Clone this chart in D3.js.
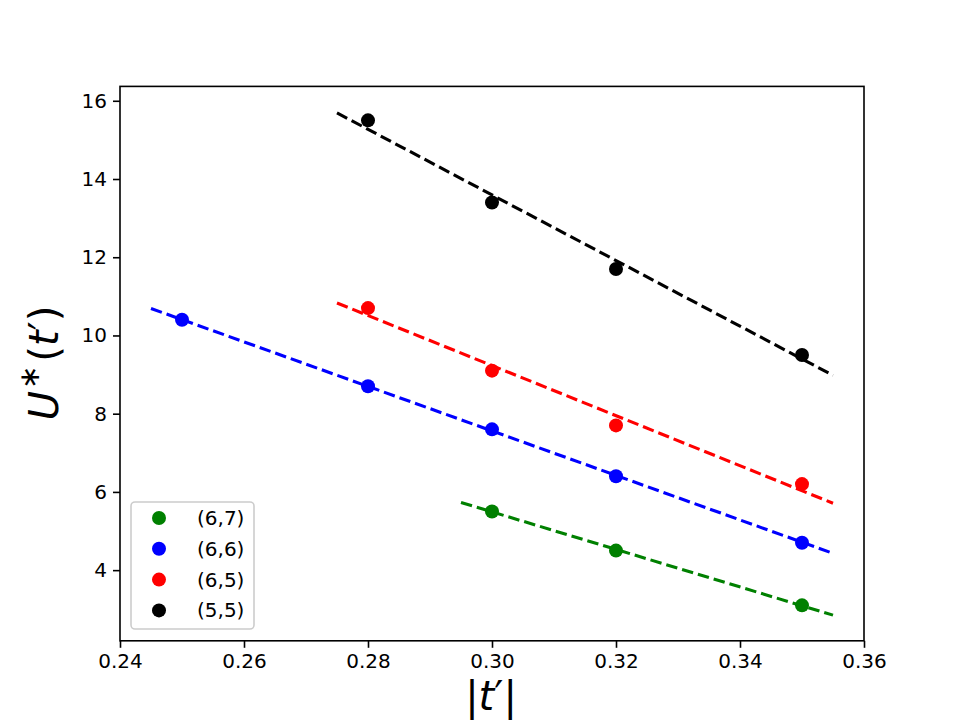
<!DOCTYPE html>
<html><head><meta charset="utf-8">
<script src="https://cdn.jsdelivr.net/npm/d3@7"></script>
<style>body{margin:0;background:#fff}svg{display:block}text{font-family:"DejaVu Sans",sans-serif}</style>
</head><body>
<svg id="c" width="960" height="720"></svg>
<script>
const seriesNames = ["(6,7)", "(6,6)", "(6,5)", "(5,5)"];
const seriesColors = ["green", "blue", "red", "black"];
const xGreen = [0.30, 0.32, 0.35];
const yGreen = [5.5, 4.5, 3.1];
const xBlue = [0.25, 0.28, 0.30, 0.32, 0.35];
const yBlue = [10.4, 8.7, 7.6, 6.4, 4.7];
const xRed = [0.28, 0.30, 0.32, 0.35];
const yRed = [10.7, 9.1, 7.7, 6.2];
const xBlack = [0.28, 0.30, 0.32, 0.35];
const yBlack = [15.5, 13.4, 11.7, 9.5];
// fitted dashed lines: [start, end]
const fitXGreen = [0.295, 0.355], fitYGreen = [5.73, 2.85];
const fitXBlue = [0.245, 0.355], fitYBlue = [10.69, 4.43];
const fitXRed = [0.275, 0.355], fitYRed = [10.83, 5.71];
const fitXBlack = [0.275, 0.355], fitYBlack = [15.69, 8.98];
const xTicks = [0.24, 0.26, 0.28, 0.30, 0.32, 0.34, 0.36];
const yTicks = [4, 6, 8, 10, 12, 14, 16];

const series = [
  {x: xGreen, y: yGreen, fx: fitXGreen, fy: fitYGreen},
  {x: xBlue, y: yBlue, fx: fitXBlue, fy: fitYBlue},
  {x: xRed, y: yRed, fx: fitXRed, fy: fitYRed},
  {x: xBlack, y: yBlack, fx: fitXBlack, fy: fitYBlack},
];

const L = 120, R = 864, T = 86.4, B = 640.8;
const svg = d3.select("#c");
const x = d3.scaleLinear().domain([0.24, 0.36]).range([L, R]);
const y = d3.scaleLinear().domain([16 + 14.4/39.17, 16 - (B-100)/39.17]).range([T, B]);

const fs = 20;
const xAxis = svg.append("g").attr("transform", `translate(0,${B})`)
  .call(d3.axisBottom(x).tickValues(xTicks).tickFormat(d3.format(".2f")).tickSize(7).tickPadding(6));
const yAxis = svg.append("g").attr("transform", `translate(${L},0)`)
  .call(d3.axisLeft(y).tickValues(yTicks).tickFormat(d3.format("d")).tickSize(7).tickPadding(6));
[xAxis, yAxis].forEach(g => {
  g.select(".domain").remove();
  g.selectAll(".tick line").attr("stroke", "#000").attr("stroke-width", 1.6);
  g.selectAll(".tick text").attr("font-size", fs).attr("fill", "#000").attr("font-family", "DejaVu Sans");
});

const clipG = svg.append("g");
series.forEach((s, i) => {
  const pts = s.fx.map((v, j) => [v, s.fy[j]]);
  clipG.append("path")
    .attr("d", d3.line().x(d => x(d[0])).y(d => y(d[1]))(pts))
    .attr("stroke", seriesColors[i]).attr("stroke-width", 3.1)
    .attr("stroke-dasharray", "11.5,5").attr("fill", "none");
});
series.forEach((s, i) => {
  clipG.selectAll(null).data(s.x.map((v, j) => [v, s.y[j]])).enter()
    .append("circle").attr("cx", d => x(d[0])).attr("cy", d => y(d[1]))
    .attr("r", 7).attr("fill", seriesColors[i]);
});

svg.append("rect").attr("x", L).attr("y", T).attr("width", R - L).attr("height", B - T)
  .attr("fill", "none").attr("stroke", "#000").attr("stroke-width", 1.6);

// legend
const lg = svg.append("g");
lg.append("rect").attr("x", 131).attr("y", 502).attr("width", 123).attr("height", 127)
  .attr("rx", 4).attr("fill", "#fff").attr("fill-opacity", 0.8).attr("stroke", "#ccc").attr("stroke-width", 1.6);
seriesNames.forEach((n, i) => {
  const cy = 518 + i * 30.8;
  lg.append("circle").attr("cx", 159).attr("cy", cy).attr("r", 7).attr("fill", seriesColors[i]);
  lg.append("text").attr("x", 197).attr("y", cy + 7).attr("font-size", fs).text(n);
});

// axis labels
const xl = svg.append("text").attr("x", 491).attr("y", 710).attr("text-anchor", "middle").attr("font-size", 40);
xl.append("tspan").text("|");
xl.append("tspan").attr("font-style", "oblique").text("t");
xl.append("tspan").text("′|");

const yl = svg.append("text").attr("transform", "translate(58,363) rotate(-90)").attr("text-anchor", "middle").attr("font-size", 40);
yl.append("tspan").attr("font-style", "oblique").text("U");
yl.append("tspan").attr("font-size", 28).attr("dy", -19).attr("dx", 2).text("∗");
yl.append("tspan").attr("dy", 19).attr("dx", 4).text("(");
yl.append("tspan").attr("font-style", "oblique").text("t");
yl.append("tspan").text("′)");
</script>
</body></html>
